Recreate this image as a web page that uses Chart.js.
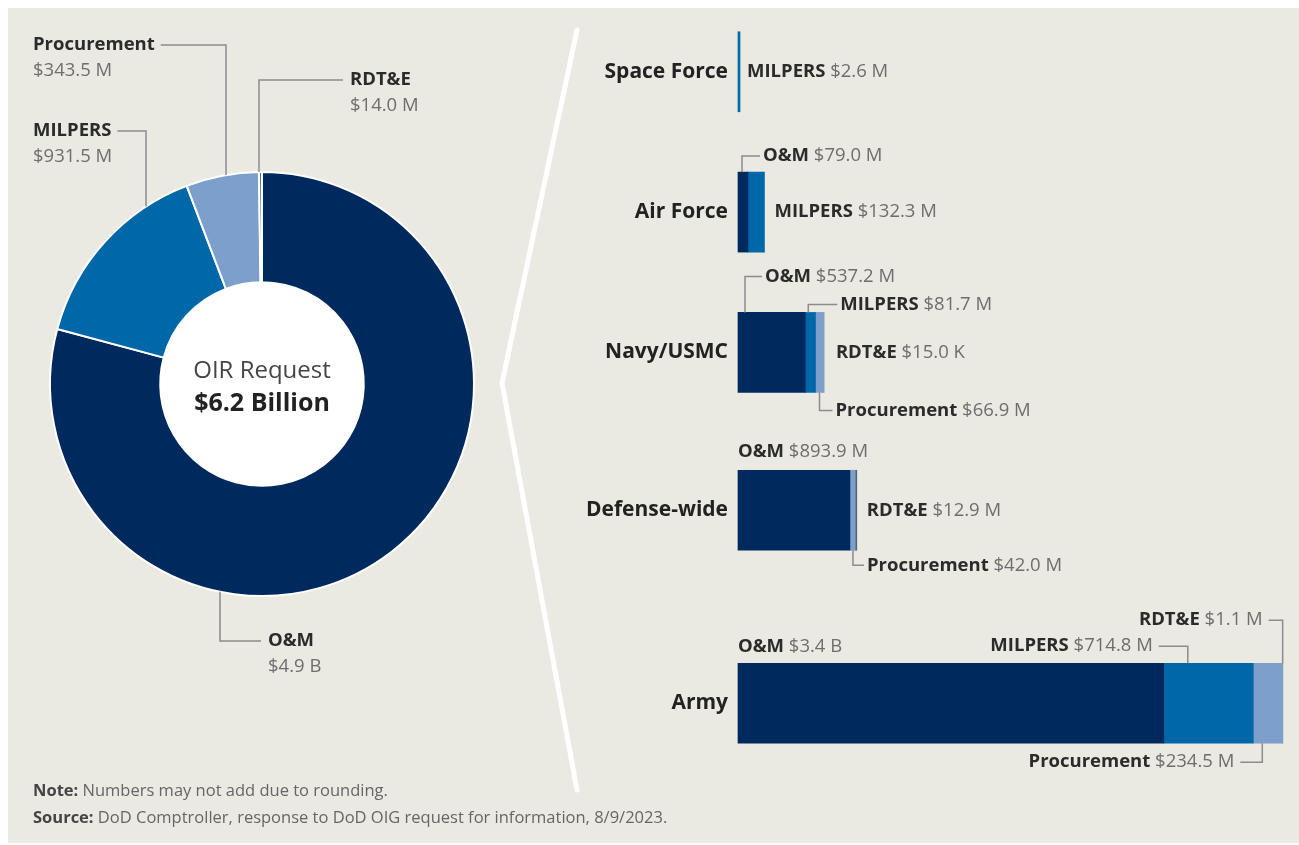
<!DOCTYPE html>
<html>
<head>
<meta charset="utf-8">
<script src="https://cdn.jsdelivr.net/npm/chart.js@4.4.1/dist/chart.umd.min.js"></script>
<style>
  body { margin: 0; background: #fff; width: 1299px; height: 845px; overflow: hidden; position: relative; font-family: "Open Sans", sans-serif; }
  #panel { position: absolute; left: 8px; top: 8px; width: 1291px; height: 835px; background: #eae9e2; }
  #donutBox { position: absolute; left: 0; top: 0; width: 545px; height: 845px; }
  #barBox { position: absolute; left: 560px; top: 0; width: 739px; height: 845px; }
  #divider { position: absolute; left: 0; top: 0; }
  .note { position: absolute; left: 33px; font-size: 16.5px; color: #666; white-space: nowrap; }
  .note b { color: #444; }
</style>
</head>
<body>
<div id="panel"></div>
<svg id="divider" width="1299" height="845">
  <polyline points="577,30 502,383 577,790" fill="none" stroke="#fff" stroke-width="5" stroke-linecap="round" stroke-linejoin="round"/>
</svg>
<div id="donutBox"><canvas id="donut"></canvas></div>
<div id="barBox"><canvas id="bars"></canvas></div>
<div class="note" style="top:778px"><b>Note:</b> Numbers may not add due to rounding.</div>
<div class="note" style="top:805px"><b>Source:</b> DoD Comptroller, response to DoD OIG request for information, 8/9/2023.</div>
<script>
// Valores em milhões de dólares
const donutLabels = ['O&M', 'MILPERS', 'Procurement', 'RDT&E'];
const donutValues = [4900, 931.5, 343.5, 14.0];

const categories = ['Space Force', 'Air Force', 'Navy/USMC', 'Defense-wide', 'Army'];
const omValues = [null, 79.0, 537.2, 893.9, 3400];
const milpersValues = [2.6, 132.3, 81.7, null, 714.8];
const procurementValues = [null, null, 66.9, 42.0, 234.5];
const rdteValues = [null, null, 0.015, 12.9, 1.1];

const colors = { om: '#002a5e', milpers: '#0068a8', procurement: '#7c9fcb', rdte: '#51696b' };
const FONT = '"Open Sans", sans-serif';
const SIZE = 18.5;

function fmt(v) {
    if (v >= 1000) return '$' + (v / 1000).toFixed(1) + ' B';
    if (v < 1) return '$' + (v * 1000).toFixed(1) + ' K';
    return '$' + v.toFixed(1) + ' M';
}

// Desenha "NOME $valor" numa linha
function drawPair(ctx, name, value, x, y, align) {
    ctx.textBaseline = 'middle';
    ctx.font = 'bold ' + SIZE + 'px ' + FONT;
    const w1 = ctx.measureText(name + ' ').width;
    ctx.font = SIZE + 'px ' + FONT;
    const w2 = ctx.measureText(value).width;
    const x0 = align === 'right' ? x - w1 - w2 : x;
    ctx.textAlign = 'left';
    ctx.font = 'bold ' + SIZE + 'px ' + FONT;
    ctx.fillStyle = '#2b2b2b';
    ctx.fillText(name, x0, y);
    ctx.font = SIZE + 'px ' + FONT;
    ctx.fillStyle = '#6e6e6e';
    ctx.fillText(value, x0 + w1, y);
    return { left: x0, right: x0 + w1 + w2 };
}

function leader(ctx, pts) {
    ctx.save();
    ctx.strokeStyle = '#8c8c8c';
    ctx.lineWidth = 1.5;
    ctx.beginPath();
    ctx.moveTo(pts[0][0], pts[0][1]);
    for (let i = 1; i < pts.length; i++) ctx.lineTo(pts[i][0], pts[i][1]);
    ctx.stroke();
    ctx.restore();
}

// ---------- Rosca ----------
// posição do texto e do cotovelo da linha de chamada, por fatia
const donutLayout = [
    { tx: 268, ty: 641, elbowX: 220, side: 'bottom', lineDir: 'left' },  // O&M
    { tx: 33, ty: 131, elbowX: 146, side: 'top', lineDir: 'right' },     // MILPERS
    { tx: 33, ty: 45, elbowX: 226, side: 'top', lineDir: 'right' },      // Procurement
    { tx: 350, ty: 80, elbowX: 259, side: 'top', lineDir: 'left' }       // RDT&E
];

const donutPlugin = {
    id: 'donutExtras',
    beforeDatasetsDraw(chart) {
        const arc = chart.getDatasetMeta(0).data[0];
        const p = arc.getProps(['x', 'y', 'innerRadius'], true);
        const ctx = chart.ctx;
        ctx.save();
        ctx.fillStyle = '#fff';
        ctx.beginPath();
        ctx.arc(p.x, p.y, p.innerRadius + 1, 0, Math.PI * 2);
        ctx.fill();
        ctx.restore();
    },
    afterDatasetsDraw(chart) {
        const ctx = chart.ctx;
        const arc = chart.getDatasetMeta(0).data[0];
        const { x: cx, y: cy, outerRadius: r } = arc.getProps(['x', 'y', 'outerRadius'], true);

        ctx.save();
        ctx.textAlign = 'center';
        ctx.textBaseline = 'middle';
        ctx.fillStyle = '#454545';
        ctx.font = '24px ' + FONT;
        ctx.fillText('OIR Request', cx, cy - 13);
        ctx.fillStyle = '#222';
        ctx.font = 'bold 25px ' + FONT;
        ctx.fillText('$6.2 Billion', cx, cy + 20);

        donutLayout.forEach((l, i) => {
            ctx.textAlign = 'left';
            ctx.textBaseline = 'middle';
            ctx.font = 'bold ' + SIZE + 'px ' + FONT;
            ctx.fillStyle = '#2b2b2b';
            ctx.fillText(donutLabels[i], l.tx, l.ty);
            const w = ctx.measureText(donutLabels[i]).width;
            ctx.font = SIZE + 'px ' + FONT;
            ctx.fillStyle = '#6e6e6e';
            ctx.fillText(fmt(donutValues[i]), l.tx, l.ty + 26);

            const startX = l.lineDir === 'right' ? l.tx + w + 6 : l.tx - 7;
            const dy = Math.sqrt(Math.max(r * r - (l.elbowX - cx) * (l.elbowX - cx), 0));
            const endY = l.side === 'top' ? cy - dy : cy + dy;
            leader(ctx, [[startX, l.ty], [l.elbowX, l.ty], [l.elbowX, endY]]);
        });
        ctx.restore();
    }
};

new Chart(document.getElementById('donut'), {
    type: 'doughnut',
    data: {
        labels: donutLabels,
        datasets: [{
            data: donutValues,
            backgroundColor: [colors.om, colors.milpers, colors.procurement, colors.rdte],
            borderColor: '#fff',
            borderWidth: 2,
            hoverOffset: 0
        }]
    },
    options: {
        responsive: true,
        maintainAspectRatio: false,
        animation: false,
        cutout: '48%',
        layout: { padding: { left: 49, right: 70, top: 171, bottom: 248 } },
        plugins: { legend: { display: false }, tooltip: { enabled: false } }
    },
    plugins: [donutPlugin]
});

// ---------- Barras ----------
// linhas do eixo com espaços vazios para imitar o espaçamento irregular da figura
const rowSlot = [0, 8, 16, 25, 36];
const slotLabels = Array.from({ length: 37 }, (_, i) => ' '.repeat(i + 1));
rowSlot.forEach((s, i) => { slotLabels[s] = categories[i]; });

function rows(values) {
    return values.map((v, i) => ({ y: categories[i], x: v }));
}

// rótulos: row, seg (dataset), modo, deslocamentos
const barLabels = [
    { row: 0, seg: 1, mode: 'right', tx: 7 },
    { row: 1, seg: 0, mode: 'up', lx: 4, ty: 16, tx: 21 },
    { row: 1, seg: 1, mode: 'right', tx: 10 },
    { row: 2, seg: 0, mode: 'up', lx: 7, ty: 36, tx: 20 },
    { row: 2, seg: 1, mode: 'up', lx: 3, ty: 8, tx: 32 },
    { row: 2, seg: 3, mode: 'right', tx: 12 },
    { row: 2, seg: 2, mode: 'down', lx: 4, ty: 18, tx: 16 },
    { row: 3, seg: 0, mode: 'above', ty: 19, tx: 0 },
    { row: 3, seg: 3, mode: 'right', tx: 10 },
    { row: 3, seg: 2, mode: 'down', lx: 3, ty: 15, tx: 14 },
    { row: 4, seg: 0, mode: 'above', ty: 16, tx: 0 },
    { row: 4, seg: 1, mode: 'up', lx: 24, ty: 17, tx: -35 },
    { row: 4, seg: 3, mode: 'up', lx: 0, ty: 43, tx: -20 },
    { row: 4, seg: 2, mode: 'down', lx: 9, ty: 19, tx: -28 }
];

const barLabelPlugin = {
    id: 'barLabels',
    afterDatasetsDraw(chart) {
        const ctx = chart.ctx;
        ctx.save();
        barLabels.forEach(l => {
            const ds = chart.data.datasets[l.seg];
            const value = ds.data[l.row].x;
            const el = chart.getDatasetMeta(l.seg).data[l.row];
            const p = el.getProps(['x', 'y', 'base', 'height'], true);
            const segLeft = Math.min(p.x, p.base);
            const top = p.y - p.height / 2;
            const bottom = p.y + p.height / 2;
            let rowEnd = segLeft;
            chart.data.datasets.forEach((d, di) => {
                if (d.data[l.row].x != null) {
                    const e = chart.getDatasetMeta(di).data[l.row];
                    rowEnd = Math.max(rowEnd, e.x);
                }
            });
            const name = ds.label;
            const text = fmt(value);
            if (l.mode === 'right') {
                drawPair(ctx, name, text, rowEnd + l.tx, p.y, 'left');
            } else if (l.mode === 'above') {
                drawPair(ctx, name, text, segLeft + l.tx, top - l.ty, 'left');
            } else {
                const legX = segLeft + l.lx;
                const ty = l.mode === 'up' ? top - l.ty : bottom + l.ty;
                const edge = l.mode === 'up' ? top : bottom;
                const align = l.tx < 0 ? 'right' : 'left';
                const box = drawPair(ctx, name, text, legX + l.tx, ty, align);
                const startX = align === 'right' ? box.right + 6 : box.left - 3;
                leader(ctx, [[startX, ty], [legX, ty], [legX, edge]]);
            }
        });
        ctx.restore();
    }
};

new Chart(document.getElementById('bars'), {
    type: 'bar',
    data: {
        labels: slotLabels,
        datasets: [
            { label: 'O&M', data: rows(omValues), backgroundColor: colors.om },
            { label: 'MILPERS', data: rows(milpersValues), backgroundColor: colors.milpers, minBarLength: 2 },
            { label: 'Procurement', data: rows(procurementValues), backgroundColor: colors.procurement },
            { label: 'RDT&E', data: rows(rdteValues), backgroundColor: colors.rdte }
        ]
    },
    options: {
        indexAxis: 'y',
        responsive: true,
        maintainAspectRatio: false,
        animation: false,
        datasets: { bar: { barThickness: 80, clip: false } },
        layout: { padding: { left: 0, right: 10, top: 63, bottom: 133 } },
        scales: {
            x: { stacked: true, min: 0, max: 4400, display: false },
            y: {
                stacked: true,
                grid: { display: false, drawTicks: false },
                border: { display: false },
                ticks: { padding: 10, autoSkip: false, color: '#222', font: { family: FONT, size: 21, weight: 'bold' } },
                afterFit(scale) { scale.width = 178; }
            }
        },
        plugins: { legend: { display: false }, tooltip: { enabled: false } }
    },
    plugins: [barLabelPlugin]
});
</script>
</body>
</html>
